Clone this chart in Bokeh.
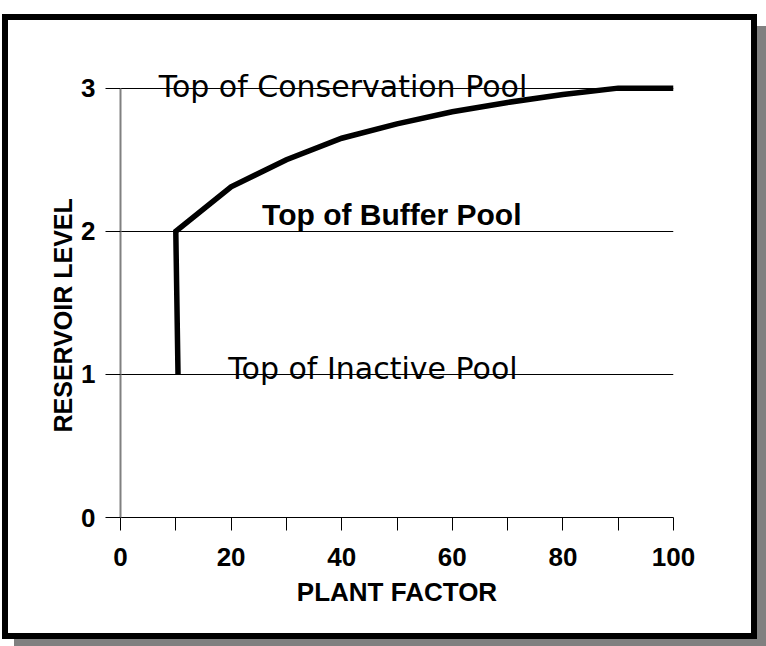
from bokeh.plotting import figure
from bokeh.models import Range1d, FixedTicker, Label, Title
from bokeh.embed import file_html
from bokeh.resources import INLINE

# ---- data ----
plant_factor = [10.4, 10, 20, 30, 40, 50, 60, 70, 80, 90, 100]
reservoir_level = [1.0, 2.0, 2.31, 2.50, 2.65, 2.75, 2.835, 2.90, 2.955, 3.0, 3.0]

pool_names = ["Top of Conservation Pool", "Top of Buffer Pool", "Top of Inactive Pool"]
pool_label_x = [6.9, 25.6, 19.5]
pool_label_y = [3.01, 2.12, 1.04]

x_ticks = [0, 20, 40, 60, 80, 100]
x_minor_ticks = [10, 30, 50, 70, 90]
y_ticks = [0, 1, 2, 3]

x_title = "PLANT FACTOR"
y_title = "RESERVOIR LEVEL"

# ---- figure ----
p = figure(
    width=743, height=613,
    x_range=Range1d(0, 100), y_range=Range1d(0, 3.2),
    output_backend="svg", toolbar_location=None,
    min_border_left=112, min_border_right=78,
    min_border_top=39, min_border_bottom=116,
)
# frame box drawn as a spread shadow (black) plus an offset grey drop shadow
p.styles = {
    "margin-top": "20px",
    "transform": "translateX(8px)",
    "box-shadow": "0 0 0 6px black, 12px 12px 0 6px #808080",
}
p.outline_line_color = None
p.background_fill_color = "white"
p.border_fill_color = "white"

# grid
p.xgrid.visible = False
p.ygrid.ticker = FixedTicker(ticks=y_ticks)
p.ygrid.grid_line_color = "black"
p.ygrid.grid_line_alpha = 1.0
p.ygrid.grid_line_width = 1

# x axis
xa = p.xaxis[0]
xa.ticker = FixedTicker(ticks=x_ticks, minor_ticks=x_minor_ticks)
xa.axis_line_color = "black"
xa.axis_line_width = 1
xa.major_tick_in = 0
xa.major_tick_out = 13
xa.minor_tick_in = 0
xa.minor_tick_out = 13
xa.major_tick_line_color = "black"
xa.minor_tick_line_color = "black"
xa.major_label_text_font = "Liberation Sans"
xa.major_label_text_font_style = "bold"
xa.major_label_text_font_size = "26px"
xa.major_label_text_color = "black"
xa.major_label_standoff = 17
xa.axis_label = x_title
xa.axis_label_text_font = "Liberation Sans"
xa.axis_label_text_font_style = "bold"
xa.axis_label_text_font_size = "26px"
xa.axis_label_text_color = "black"
xa.axis_label_standoff = 8

# y axis
ya = p.yaxis[0]
ya.ticker = FixedTicker(ticks=y_ticks)
ya.bounds = (y_ticks[0], y_ticks[-1])
ya.axis_line_color = "#808080"
ya.axis_line_width = 2
ya.major_tick_in = 0
ya.major_tick_out = 15
ya.minor_tick_line_color = None
ya.major_tick_line_color = "black"
ya.major_label_text_font = "Liberation Sans"
ya.major_label_text_font_style = "bold"
ya.major_label_text_font_size = "26px"
ya.major_label_text_color = "black"
ya.major_label_standoff = 10

# y title on the left, starting above the frame bottom
p.add_layout(Title(
    text=y_title, align="left", offset=85, standoff=4,
    text_font="Liberation Sans", text_font_style="bold",
    text_font_size="25px", text_color="black",
), "left")

# curve
p.line(plant_factor, reservoir_level, line_width=5.5, line_color="black",
       line_join="miter", line_cap="butt")

# pool labels
label_fonts = ["DejaVu Sans", "Liberation Sans", "DejaVu Sans"]
label_styles = ["normal", "bold", "normal"]
label_sizes = ["30px", "30px", "30px"]
for i, name in enumerate(pool_names):
    p.add_layout(Label(
        x=pool_label_x[i], y=pool_label_y[i], text=name,
        text_font=label_fonts[i], text_font_style=label_styles[i],
        text_font_size=label_sizes[i], text_color="black",
        text_baseline="alphabetic", text_align="left",
    ))

open("out.html", "w").write(file_html(p, INLINE))
